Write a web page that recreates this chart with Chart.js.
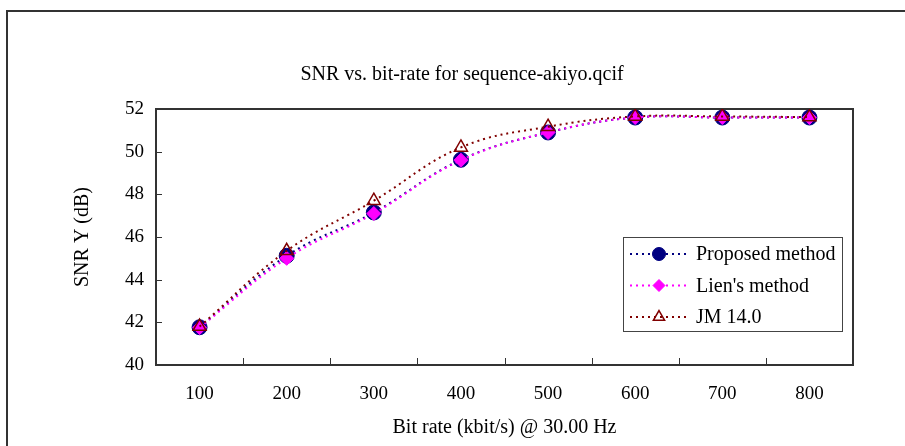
<!DOCTYPE html>
<html>
<head>
<meta charset="utf-8">
<script src="https://cdn.jsdelivr.net/npm/chart.js@4/dist/chart.umd.min.js"></script>
<style>
  html, body { margin: 0; padding: 0; background: #fff; }
  #wrap { width: 905px; height: 446px; position: relative; }
</style>
</head>
<body>
<div id="wrap"><canvas id="snr" width="905" height="446"></canvas></div>
<script>
// data
var bitRates = ['100', '200', '300', '400', '500', '600', '700', '800'];
var proposedSnr = [41.77, 45.12, 47.15, 49.62, 50.9, 51.6, 51.6, 51.6];
var lienSnr = [41.75, 45.0, 47.1, 49.6, 50.9, 51.6, 51.6, 51.6];
var jmSnr = [41.8, 45.35, 47.7, 50.2, 51.17, 51.65, 51.65, 51.62];
var yTicks = [40, 42, 44, 46, 48, 50, 52];

var serif = '"Liberation Serif", "Times New Roman", serif';

// white page + outer frame, plot box, inner ticks, legend
var frame = {
  id: 'frame',
  beforeDraw: function (chart) {
    var ctx = chart.ctx;
    ctx.save();
    ctx.fillStyle = '#fff';
    ctx.fillRect(0, 0, chart.width, chart.height);
    ctx.strokeStyle = '#333';
    ctx.lineWidth = 2;
    ctx.strokeRect(7, 11, chart.width + 20, chart.height + 20);
    ctx.restore();
  },
  beforeDatasetsDraw: function (chart) {
    var ctx = chart.ctx, a = chart.chartArea;
    var x = chart.scales.x, y = chart.scales.y;
    ctx.save();
    ctx.strokeStyle = '#333';
    ctx.lineWidth = 2;
    ctx.strokeRect(a.left, a.top, a.right - a.left, a.bottom - a.top);
    ctx.lineWidth = 1;
    ctx.beginPath();
    yTicks.forEach(function (v) {
      var py = Math.round(y.getPixelForValue(v)) + 0.5;
      ctx.moveTo(a.left, py);
      ctx.lineTo(a.left + 6, py);
    });
    for (var i = 0; i < bitRates.length - 1; i++) {
      var px = Math.round((x.getPixelForValue(i) + x.getPixelForValue(i + 1)) / 2) + 0.5;
      ctx.moveTo(px, a.bottom);
      ctx.lineTo(px, a.bottom - 7);
    }
    ctx.stroke();
    ctx.restore();
  },
  afterDraw: function (chart) {
    var ctx = chart.ctx;
    var bx = 623, by = 237, bw = 219, bh = 94;
    ctx.save();
    ctx.fillStyle = '#fff';
    ctx.fillRect(bx, by, bw, bh);
    ctx.strokeStyle = '#444';
    ctx.lineWidth = 1;
    ctx.strokeRect(bx + 0.5, by + 0.5, bw, bh);
    chart.data.datasets.forEach(function (ds, i) {
      var cy = 254 + i * 31.5;
      ctx.strokeStyle = ds.borderColor;
      ctx.lineWidth = 2;
      ctx.setLineDash([2, 4]);
      ctx.beginPath();
      ctx.moveTo(630, cy);
      ctx.lineTo(686, cy);
      ctx.stroke();
      ctx.setLineDash([]);
      ctx.fillStyle = ds.pointBackgroundColor;
      ctx.strokeStyle = ds.pointBorderColor;
      ctx.lineWidth = ds.pointBorderWidth;
      Chart.helpers.drawPoint(ctx, {
        pointStyle: ds.pointStyle,
        radius: ds.pointRadius - 1,
        borderWidth: ds.pointBorderWidth,
        rotation: 0
      }, 659, cy);
      ctx.fillStyle = '#000';
      ctx.font = '20px ' + serif;
      ctx.textBaseline = 'middle';
      ctx.fillText(ds.label, 696, cy + 1);
    });
    ctx.restore();
  }
};

var ctx = document.getElementById('snr').getContext('2d');
new Chart(ctx, {
  type: 'line',
  data: {
    labels: bitRates,
    datasets: [
      {
        label: 'Proposed method',
        data: proposedSnr,
        borderColor: '#000080',
        borderWidth: 2,
        borderDash: [2, 4],
        pointStyle: 'circle',
        pointRadius: 7.5,
        pointBackgroundColor: '#000080',
        pointBorderColor: '#000080',
        pointBorderWidth: 1,
        order: 3
      },
      {
        label: "Lien's method",
        data: lienSnr,
        borderColor: '#ff00ff',
        borderWidth: 2,
        borderDash: [2, 4],
        pointStyle: 'rectRot',
        pointRadius: 7,
        pointBackgroundColor: '#ff00ff',
        pointBorderColor: '#ff00ff',
        pointBorderWidth: 1,
        order: 2
      },
      {
        label: 'JM 14.0',
        data: jmSnr,
        borderColor: '#800000',
        borderWidth: 2,
        borderDash: [2, 4],
        pointStyle: 'triangle',
        pointRadius: 7.5,
        pointBackgroundColor: 'rgba(255,255,255,0)',
        pointBorderColor: '#800000',
        pointBorderWidth: 1.5,
        order: 1
      }
    ]
  },
  options: {
    responsive: false,
    animation: false,
    events: [],
    layout: { padding: { left: 19, right: 0, top: 0, bottom: 0 } },
    elements: { line: { tension: 0.4, fill: false } },
    plugins: {
      legend: { display: false },
      tooltip: { enabled: false },
      title: {
        display: true,
        text: 'SNR vs. bit-rate for sequence-akiyo.qcif',
        color: '#000',
        font: { family: serif, size: 20, weight: 'normal', lineHeight: 1.2 },
        padding: { top: 63, bottom: 22 }
      }
    },
    scales: {
      x: {
        offset: true,
        grid: { display: false, drawTicks: false, tickLength: 0 },
        border: { display: false },
        ticks: {
          color: '#000',
          padding: 18,
          maxRotation: 0,
          font: { family: serif, size: 19 }
        },
        title: {
          display: true,
          text: 'Bit rate (kbit/s) @ 30.00 Hz',
          color: '#000',
          font: { family: serif, size: 20, lineHeight: 1.2 },
          padding: { top: 0, bottom: 6 }
        },
        afterFit: function (scale) { scale.height = 81; }
      },
      y: {
        min: 40,
        max: 52,
        grid: { display: false, drawTicks: false, tickLength: 0 },
        border: { display: false },
        ticks: {
          stepSize: 2,
          color: '#000',
          padding: 12,
          font: { family: serif, size: 19 }
        },
        title: {
          display: true,
          text: 'SNR Y (dB)',
          color: '#000',
          font: { family: serif, size: 20, lineHeight: 1.2 },
          padding: { top: 52, bottom: 0 }
        },
        afterFit: function (scale) { scale.width = 137; }
      },
      // empty right-hand spacer so the plot ends where the reference does
      yRight: {
        type: 'linear',
        position: 'right',
        min: 40,
        max: 52,
        grid: { display: false, drawTicks: false },
        border: { display: false },
        ticks: { display: false },
        afterFit: function (scale) { scale.width = 52; }
      }
    }
  },
  plugins: [frame]
});
</script>
</body>
</html>
